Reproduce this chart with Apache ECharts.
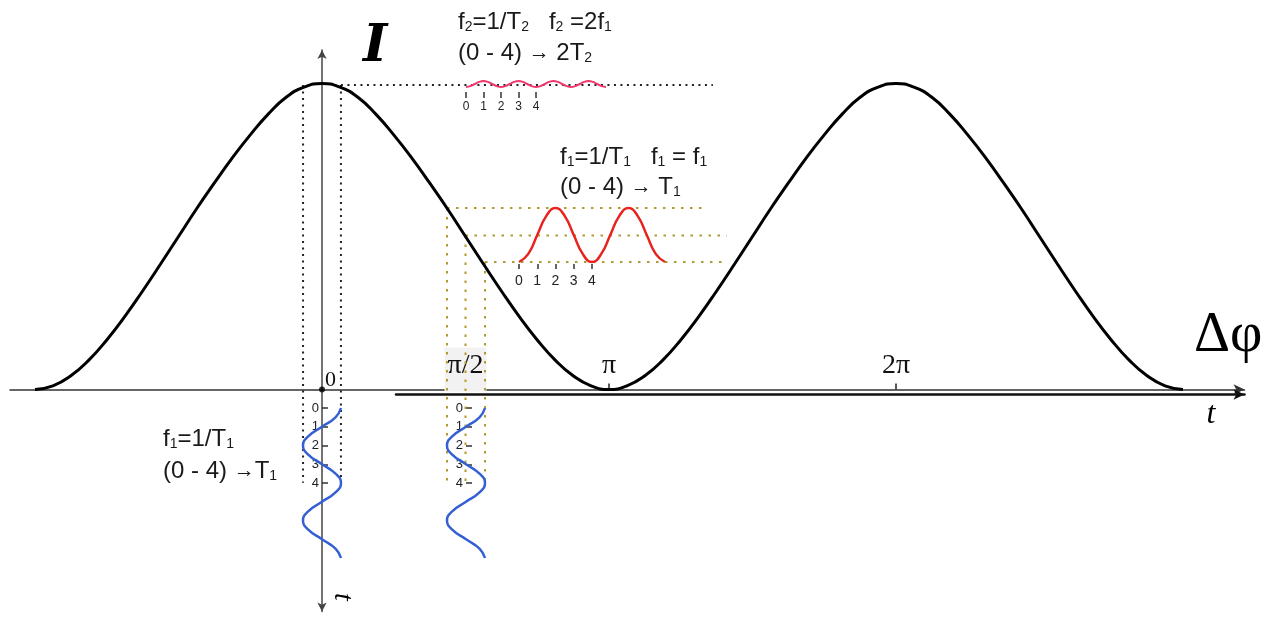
<!DOCTYPE html>
<html>
<head>
<meta charset="utf-8">
<script src="https://cdn.jsdelivr.net/npm/echarts@6/dist/echarts.min.js"></script>
<style>
  html, body { margin: 0; padding: 0; background: #fff; }
  #chart { width: 1275px; height: 618px; }
</style>
</head>
<body>
<div id="chart"></div>
<script>
// Phase difference Δφ (in units of π) and normalised interference intensity I
const phase = [
  -1, -0.9375, -0.875, -0.8125, -0.75, -0.6875, -0.625, -0.5625,
  -0.5, -0.4375, -0.375, -0.3125, -0.25, -0.1875, -0.125, -0.0625,
  0, 0.0625, 0.125, 0.1875, 0.25, 0.3125, 0.375, 0.4375,
  0.5, 0.5625, 0.625, 0.6875, 0.75, 0.8125, 0.875, 0.9375,
  1, 1.0625, 1.125, 1.1875, 1.25, 1.3125, 1.375, 1.4375,
  1.5, 1.5625, 1.625, 1.6875, 1.75, 1.8125, 1.875, 1.9375,
  2, 2.0625, 2.125, 2.1875, 2.25, 2.3125, 2.375, 2.4375,
  2.5, 2.5625, 2.625, 2.6875, 2.75, 2.8125, 2.875, 2.9375, 3];
const intensity = [
  0, 0.012, 0.045, 0.096, 0.162, 0.238, 0.322, 0.41,
  0.5, 0.59, 0.675, 0.757, 0.832, 0.9, 0.955, 0.988,
  1, 0.988, 0.955, 0.9, 0.832, 0.757, 0.675, 0.59,
  0.5, 0.41, 0.322, 0.238, 0.162, 0.096, 0.045, 0.012,
  0, 0.012, 0.045, 0.096, 0.162, 0.238, 0.322, 0.41,
  0.5, 0.59, 0.675, 0.757, 0.832, 0.9, 0.955, 0.988,
  1, 0.988, 0.955, 0.9, 0.832, 0.757, 0.675, 0.59,
  0.5, 0.41, 0.322, 0.238, 0.162, 0.096, 0.045, 0.012, 0];

// Δφ axis ticks and labels (units of π)
const phaseTickValues = [0.5, 1, 2];
const phaseLabelValues = [0, 0.5, 1, 2];
const phaseLabels = ['0', 'π/2', 'π', '2π'];

// Time ticks 0–4 span one modulation period T1
const timeTicks = [0, 1, 2, 3, 4];

// Phase modulation (blue) and intensity response at the quadrature point (red), sampled in time
const modTime = [0, 0.5, 1, 1.5, 2, 2.5, 3, 3.5, 4, 4.5, 5, 5.5, 6, 6.5, 7, 7.5, 8];
const phaseSwing = [1, 0.71, 0, -0.71, -1, -0.71, 0, 0.71, 1, 0.71, 0, -0.71, -1, -0.71, 0, 0.71, 1];
const quadResponse = [-1, -0.71, 0, 0.71, 1, 0.71, 0, -0.71, -1, -0.71, 0, 0.71, 1, 0.71, 0, -0.71, -1];

// Intensity response at the peak (pink): twice the modulation frequency
const fastTime = [0, 0.25, 0.5, 0.75, 1, 1.25, 1.5, 1.75, 2, 2.25, 2.5, 2.75, 3, 3.25, 3.5, 3.75, 4,
  4.25, 4.5, 4.75, 5, 5.25, 5.5, 5.75, 6, 6.25, 6.5, 6.75, 7, 7.25, 7.5, 7.75, 8];
const peakResponse = [-1, -0.71, 0, 0.71, 1, 0.71, 0, -0.71, -1, -0.71, 0, 0.71, 1, 0.71, 0, -0.71, -1,
  -0.71, 0, 0.71, 1, 0.71, 0, -0.71, -1, -0.71, 0, 0.71, 1, 0.71, 0, -0.71, -1];

// Projection guides (phase in π, intensity)
const peakGuidePhase = [-0.066, 0.066];
const peakGuideLevel = 0.995;
const peakGuideEnd = 1.362;
const quadGuidePhase = [0.4355, 0.5, 0.568];
const quadGuideLevel = [0.593, 0.503, 0.417];
const quadGuideEnd = [1.345, 1.411, 1.404];
const guideBottom = -0.305;

const SERIF = 'Liberation Serif';
const SANS = 'Liberation Sans';

function guide(a, b, color, dash) {
  return {
    type: 'line', xAxisIndex: 0, yAxisIndex: 0, data: [a, b],
    symbol: 'none', showSymbol: false, silent: true, clip: false, z: 1,
    lineStyle: { color: color, width: 2, type: dash }
  };
}

const guides = [];
peakGuidePhase.forEach(p => guides.push(guide([p, peakGuideLevel], [p, guideBottom], '#222', [2, 4.5])));
guides.push(guide([peakGuidePhase[1], peakGuideLevel], [peakGuideEnd, peakGuideLevel], '#222', [2, 4.5]));
quadGuidePhase.forEach((p, i) => {
  guides.push(guide([p, quadGuideLevel[i]], [p, guideBottom], '#b09a33', [2.5, 6.5]));
  guides.push(guide([p, quadGuideLevel[i]], [quadGuideEnd[i], quadGuideLevel[i]], '#b09a33', [2.5, 6.5]));
});

// Formula text: "_d" is a subscript digit, "→" a small arrow
function toRich(src) {
  let out = '', buf = '';
  const flush = () => { if (buf) { out += '{m|' + buf + '}'; buf = ''; } };
  for (let i = 0; i < src.length; i++) {
    const c = src[i];
    if (c === '_') { flush(); out += '{s|' + src[++i] + '}'; }
    else if (c === '→') { flush(); out += '{a|→}'; }
    else buf += c;
  }
  flush();
  return out;
}
const formulaRich = {
  m: { fontFamily: SANS, fontSize: 24, fill: '#1a1a1a', color: '#1a1a1a' },
  s: { fontFamily: SANS, fontSize: 14, fill: '#1a1a1a', color: '#1a1a1a', verticalAlign: 'bottom' },
  a: { fontFamily: SANS, fontSize: 21, fontWeight: 'bold', fill: '#1a1a1a', color: '#1a1a1a' }
};
function formula(x, y, src) {
  return {
    type: 'text', x: x, y: y, silent: true,
    style: { text: toRich(src), rich: formulaRich, align: 'left', verticalAlign: 'middle',
      fontFamily: SANS, fontSize: 24, fill: '#1a1a1a' }
  };
}

const hiddenAxis = (grid, min, max) => ({
  gridIndex: grid, type: 'value', min: min, max: max, show: false,
  splitLine: { show: false }
});

const timeXAxis = (grid, len, margin, size) => ({
  gridIndex: grid, type: 'value', min: 0, max: 8, position: 'bottom',
  axisLine: { show: false, onZero: false },
  axisTick: { show: true, length: len, customValues: timeTicks, lineStyle: { color: '#333', width: 1.5 } },
  axisLabel: { show: true, customValues: timeTicks, margin: margin, fontSize: size, fontFamily: SANS, color: '#222' },
  splitLine: { show: false }
});

const timeYAxis = grid => ({
  gridIndex: grid, type: 'value', min: 0, max: 8, inverse: true, position: 'left', offset: -19,
  axisLine: { show: false, onZero: false },
  axisTick: { show: true, inside: true, length: 6, customValues: timeTicks, lineStyle: { color: '#333', width: 1.5 } },
  axisLabel: { show: true, customValues: timeTicks, margin: 3, fontSize: 13, fontFamily: SANS, color: '#222' },
  splitLine: { show: false }
});

const chart = echarts.init(document.getElementById('chart'), null, { renderer: 'canvas' });

chart.setOption({
  animation: false,
  backgroundColor: '#fff',
  textStyle: { fontFamily: SANS },
  grid: [
    { left: 10, right: 30.5, top: 50, bottom: 6.5, outerBoundsMode: 'none' },      // I(Δφ)
    { left: 396, right: 30.5, top: 0, bottom: 223.5, outerBoundsMode: 'none' },    // t line
    { left: 519, width: 146, top: 208, height: 56, outerBoundsMode: 'none' },      // red response
    { left: 466, width: 140, top: 81, height: 11, outerBoundsMode: 'none' },       // pink response
    { left: 303, width: 38, top: 408, height: 150, outerBoundsMode: 'none' },      // blue at 0
    { left: 447, width: 38, top: 408, height: 150, outerBoundsMode: 'none' }       // blue at π/2
  ],
  xAxis: [
    {
      gridIndex: 0, type: 'value', min: -1.0871, max: 3.2143, position: 'bottom', offset: -222,
      axisLine: { show: true, onZero: false, symbol: ['none', 'arrow'], symbolSize: [8, 11],
        lineStyle: { color: '#333', width: 1.5 } },
      axisTick: { show: true, inside: true, length: 6, customValues: phaseTickValues,
        lineStyle: { color: '#222', width: 1.5 } },
      axisLabel: {
        show: true, inside: true, margin: -2, customValues: phaseLabelValues,
        formatter: v => {
          const i = phaseLabelValues.indexOf(v);
          const key = i === 0 ? 'z' : (i === 1 ? 'h' : 'p');
          return '{' + key + '|' + phaseLabels[i] + '}';
        },
        rich: {
          z: { fontFamily: SERIF, fontSize: 22, color: '#111', padding: [0, 0, 0, 17] },
          h: { fontFamily: SERIF, fontSize: 28, color: '#111', backgroundColor: '#f2f2f2', padding: [4, 3, 12, 3] },
          p: { fontFamily: SERIF, fontSize: 28, color: '#111', padding: [0, 0, 12, 0] }
        }
      },
      splitLine: { show: false }
    },
    {
      gridIndex: 1, type: 'value', min: 0, max: 1, position: 'bottom',
      axisLine: { show: true, onZero: false, symbol: ['none', 'arrow'], symbolSize: [8, 11],
        lineStyle: { color: '#111', width: 2.5 } },
      axisTick: { show: false }, axisLabel: { show: false }, splitLine: { show: false }
    },
    timeXAxis(2, 5, 10, 14),
    timeXAxis(3, 6, 9, 12),
    hiddenAxis(4, -1, 1),
    hiddenAxis(5, -1, 1)
  ],
  yAxis: [
    {
      gridIndex: 0, type: 'value', min: -0.7255, max: 1.1095, position: 'left', offset: -312,
      axisLine: { show: true, onZero: false, symbol: ['arrow', 'arrow'], symbolSize: [7, 9],
        lineStyle: { color: '#444', width: 1.5 } },
      axisTick: { show: false }, axisLabel: { show: false }, splitLine: { show: false }
    },
    hiddenAxis(1, 0, 1),
    hiddenAxis(2, -1.074, 1),
    hiddenAxis(3, -2.667, 1),
    timeYAxis(4),
    timeYAxis(5)
  ],
  series: [
    ...guides,
    {
      name: 'I', type: 'line', xAxisIndex: 0, yAxisIndex: 0, z: 5,
      data: phase.map((p, i) => [p, intensity[i]]),
      smooth: 0.5, symbol: 'none', showSymbol: false, clip: false, silent: true,
      lineStyle: { color: '#000', width: 3 }
    },
    {
      type: 'scatter', xAxisIndex: 0, yAxisIndex: 0, z: 6, silent: true,
      data: [[0, 0]], symbolSize: 6, itemStyle: { color: '#000' }
    },
    {
      name: 'I(t) at π/2', type: 'line', xAxisIndex: 2, yAxisIndex: 2, z: 5,
      data: modTime.map((t, i) => [t, quadResponse[i]]),
      smooth: 0.5, symbol: 'none', showSymbol: false, clip: false, silent: true,
      lineStyle: { color: '#e8221c', width: 2.5 }
    },
    {
      name: 'I(t) at 0', type: 'line', xAxisIndex: 3, yAxisIndex: 3, z: 5,
      data: fastTime.map((t, i) => [t, peakResponse[i]]),
      smooth: 0.5, symbol: 'none', showSymbol: false, clip: false, silent: true,
      lineStyle: { color: '#f0386c', width: 2 }
    },
    {
      name: 'Δφ(t) at 0', type: 'line', xAxisIndex: 4, yAxisIndex: 4, z: 5,
      data: modTime.map((t, i) => [phaseSwing[i], t]),
      smooth: 0.5, symbol: 'none', showSymbol: false, clip: false, silent: true,
      lineStyle: { color: '#3560d4', width: 2.5 }
    },
    {
      name: 'Δφ(t) at π/2', type: 'line', xAxisIndex: 5, yAxisIndex: 5, z: 5,
      data: modTime.map((t, i) => [phaseSwing[i], t]),
      smooth: 0.5, symbol: 'none', showSymbol: false, clip: false, silent: true,
      lineStyle: { color: '#3560d4', width: 2.5 }
    }
  ],
  graphic: {
    elements: [
      { type: 'text', x: 363, y: 47.5, silent: true,
        style: { text: 'I', fontFamily: 'DejaVu Serif', fontStyle: 'italic', fontWeight: 'bold', fontSize: 52,
          fill: '#000', align: 'left', verticalAlign: 'middle' } },
      { type: 'text', x: 1194, y: 336, silent: true,
        style: { text: 'Δφ', fontFamily: SERIF, fontSize: 56, fill: '#000', align: 'left', verticalAlign: 'middle' } },
      { type: 'text', x: 1211, y: 415, silent: true,
        style: { text: 't', fontFamily: SERIF, fontStyle: 'italic', fontSize: 32, fill: '#000', align: 'center', verticalAlign: 'middle' } },
      { type: 'text', x: 342, y: 597, rotation: -Math.PI / 2, silent: true,
        style: { text: 't', fontFamily: SERIF, fontStyle: 'italic', fontSize: 28, fill: '#000', align: 'center', verticalAlign: 'middle' } },
      formula(458, 22.5, 'f_2=1/T_2   f_2 =2f_1'),
      formula(458, 53.5, '(0 - 4) → 2T_2'),
      formula(560, 157.5, 'f_1=1/T_1   f_1 = f_1'),
      formula(560, 187.5, '(0 - 4) → T_1'),
      formula(163, 439, 'f_1=1/T_1'),
      formula(163, 471, '(0 - 4) →T_1')
    ]
  }
});
</script>
</body>
</html>
